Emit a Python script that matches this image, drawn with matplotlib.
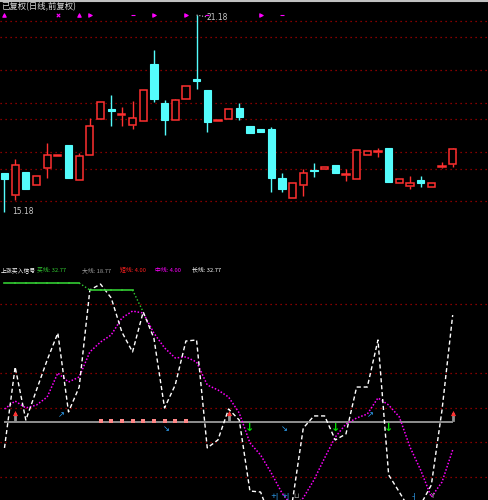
import numpy as np
import matplotlib
matplotlib.use('Agg')
import matplotlib.pyplot as plt
from matplotlib.patches import Rectangle

plt.rcParams['font.family'] = ['Noto Sans CJK SC', 'DejaVu Sans']

# ---------------- data ----------------
opens = [16.37, 15.70, 16.40, 16.00, 16.52, 16.89, 17.22, 16.15, 16.92, 18.01,
         18.32, 18.13, 17.83, 17.95, 19.69, 18.50, 17.98, 18.62, 19.23, 18.90,
         17.95, 18.01, 18.35, 17.80, 17.71, 17.71, 16.22, 15.61, 16.00, 16.47,
         16.49, 16.61, 16.32, 16.19, 16.92, 17.02, 17.13, 16.06, 15.97, 16.15,
         15.94, 16.55, 16.64]
closes = [16.19, 16.61, 15.88, 16.28, 16.92, 16.92, 16.22, 16.89, 17.80, 18.53,
          18.26, 18.17, 18.04, 18.90, 18.62, 17.98, 18.59, 19.02, 19.17, 17.92,
          17.98, 18.32, 18.07, 17.59, 17.62, 16.22, 15.88, 16.06, 16.37, 16.44,
          16.55, 16.37, 16.35, 17.07, 17.04, 17.05, 16.09, 16.19, 16.06, 16.06,
          16.06, 16.58, 17.10]
highs = [16.37, 16.79, 16.40, 16.28, 17.28, 16.92, 17.22, 16.98, 18.04, 18.53,
         18.74, 18.38, 18.56, 18.90, 20.11, 18.59, 18.62, 19.02, 21.18, 18.90,
         17.98, 18.32, 18.50, 17.80, 17.71, 17.77, 16.37, 16.06, 16.49, 16.67,
         16.55, 16.61, 16.49, 17.07, 17.04, 17.13, 17.13, 16.19, 16.28, 16.28,
         16.06, 16.70, 17.13]
lows = [15.18, 15.55, 15.88, 16.00, 16.22, 16.89, 16.22, 16.15, 16.92, 18.01,
        17.80, 17.80, 17.71, 17.95, 18.53, 17.53, 17.98, 18.62, 18.93, 17.62,
        17.95, 18.01, 17.98, 17.59, 17.62, 15.79, 15.79, 15.61, 15.67, 16.25,
        16.49, 16.37, 16.12, 16.19, 16.92, 16.86, 16.09, 16.06, 15.88, 15.94,
        15.94, 16.52, 16.55]
price_grid = [21.0, 20.5, 19.5, 18.5, 18.0, 17.0, 16.5, 15.5]
high_label = "21.18"
low_label = "15.18"
title_text = "已复权(日线,前复权)"

top_marks_idx = [0, 5, 7, 8, 12, 14, 17, 19, 24, 26]
top_marks_sym = ['^', 'x', '^', '>', '_', '>', '>', '_', '>', '_']

j_line = [16.8, 63.6, 32.9, 50.3, 67.6, 83.2, 37.6, 52.0, 108.1, 111.5,
          103.5, 83.8, 72.3, 95.4, 80.3, 39.9, 53.2, 78.6, 79.2, 16.8,
          21.4, 39.3, 32.9, -8.1, -8.7, -24.9, -22.0, -13.3, 28.3, 35.3,
          35.3, 21.4, 24.9, 52.0, 52.0, 79.2, 1.2, -8.7, -19.0, -16.0,
          -4.6, 38.7, 93.6]
d_line = [39.3, 43.9, 39.9, 41.6, 46.2, 60.1, 54.9, 57.8, 72.3, 78.0,
          82.1, 91.9, 95.9, 94.8, 83.2, 74.6, 68.8, 69.4, 66.5, 53.2,
          50.3, 46.2, 37.0, 19.7, 12.7, 2.3, -9.2, -17.3, -12.1, -1.7,
          11.0, 23.1, 30.6, 34.1, 36.4, 45.7, 41.6, 34.7, 17.3, 4.0,
          -11.6, -2.9, 15.6]
buy_line = [112.1, 112.1, 112.1, 112.1, 112.1, 112.1, 112.1, 112.1,
            108.1, 108.1, 108.1, 108.1, 108.1, 95.4]
base_level = 32.0
ind_grid = [100, 60, 40, 20, 0]

pink_idx = [9, 10, 11, 12, 13, 14, 15, 16, 17]
mushroom_idx = [1, 21, 42]
green_arrow_idx = [23, 31, 36]
cyan_up_idx = [5, 34]
cyan_down_idx = [15, 26]
bottom_marks_pos = [25.3, 26.3, 27.3, 38.4, 40.1]
bottom_marks_txt = ['+|', '+|', '⊔', '-|', 'Y']
bottom_marks_col = ['#30A8FF', '#30A8FF', '#B0B0B0', '#30A8FF', '#B0B0B0']

legend_parts = [("上涨买入信号", '#FFFFFF'), ("买线: 32.77", '#33CC33'),
                ("大线: 18.77", '#A0A0A0'), ("短线: 4.00", '#FF2020'),
                ("中线: 4.00", '#FF00FF'), ("长线: 32.77", '#FFFFFF')]
legend_x = [1, 37, 82, 120, 155, 192]

# ---------------- style ----------------
RED = '#FF3030'
CYAN = '#54FCFC'
GRID = '#B00000'
W, H = 488, 500
n = len(opens)
xlim = (-0.42, 45.31)

fig = plt.figure(figsize=(W / 100, H / 100), dpi=100, facecolor='black')
ax = fig.add_axes([0, 0.5, 1, 0.5], facecolor='black')
ax2 = fig.add_axes([0, 0, 1, 223 / 500], facecolor='black')
for a in (ax, ax2):
    a.set_xlim(*xlim)
    a.set_xticks([]); a.set_yticks([])
    for s in a.spines.values():
        s.set_visible(False)

ax.set_ylim(14.02, 21.64)
ax2.set_ylim(-13.3, 115.6)

# grid lines
for g in price_grid:
    ax.axhline(g, color=GRID, lw=0.9, ls=(0, (1, 3)))
for g in ind_grid:
    ax2.axhline(g, color=GRID, lw=0.9, ls=(0, (1, 3)))

# candles
w = 0.68
eps = 0.03
for i in range(n):
    o, c, h, l = opens[i], closes[i], highs[i], lows[i]
    up = c >= o
    top, bot = max(o, c), min(o, c)
    col = RED if up else CYAN
    if h > top:
        ax.vlines(i, top, h, color=col, lw=1)
    if l < bot:
        ax.vlines(i, l, bot, color=col, lw=1)
    hgt = max(top - bot, eps)
    if up:
        ax.add_patch(Rectangle((i - w / 2, bot), w, hgt, facecolor='black',
                               edgecolor=col, lw=1.1, zorder=3))
    else:
        ax.add_patch(Rectangle((i - w / 2, bot), w, hgt, facecolor=col,
                               edgecolor=col, lw=0.8, zorder=3))

# high / low labels
imax = int(np.argmax(highs)); imin = int(np.argmin(lows))
ax.plot([imax, imax + 0.9], [highs[imax], highs[imax] - 0.05], color='#C8C8C8',
        lw=0.8, ls=(0, (1, 1.5)))
ax.text(imax + 0.95, highs[imax] - 0.08, high_label, color='#C8C8C8',
        fontsize=5.5, va='center', ha='left', family='DejaVu Sans')
ax.text(imin + 0.75, lows[imin] + 0.02, low_label, color='#C8C8C8',
        fontsize=5.5, va='center', ha='left', family='DejaVu Sans')

# top magenta markers
for i, s in zip(top_marks_idx, top_marks_sym):
    ax.scatter([i], [0.94], transform=ax.get_xaxis_transform(), marker=s,
               s=6, color='#FF00FF', lw=0.8, zorder=5)

# title and top bar
fig.text(1 / W, 1 - 7 / H, title_text, color='#E0E0E0', fontsize=6,
         va='center', ha='left')
fig.add_artist(plt.Line2D([0, 1], [1 - 1 / H, 1 - 1 / H], color='#C0C0C0',
                          lw=1.5, transform=fig.transFigure))

# ---------------- indicator ----------------
x = np.arange(n)
ax2.plot(x, d_line, color='#FF00FF', lw=1.1, ls=(0, (1, 1.2)), zorder=3)
ax2.plot(x, j_line, color='#FFFFFF', lw=1.0, ls=(0, (3, 2)), zorder=4)
ax2.hlines(base_level, 0, n - 1, color='#A8A8A8', lw=1.2, zorder=2)

bx = np.arange(len(buy_line))
for k in range(len(buy_line) - 1):
    flat = buy_line[k] == buy_line[k + 1]
    ax2.plot(bx[k:k + 2], buy_line[k:k + 2], color='#33CC33',
             lw=1.2 if flat else 1.0,
             ls='-' if flat else (0, (1, 1.5)), zorder=5)

ax2.scatter(pink_idx, [base_level + 0.6] * len(pink_idx), marker='s', s=5,
            color='#FF8888', zorder=5, lw=0)
for i in mushroom_idx:
    ax2.plot([i, i], [base_level + 1, base_level + 4.5], color='#909090', lw=2, zorder=6)
    ax2.scatter([i], [base_level + 5.2], marker='^', s=14, color='#FF3030', zorder=7, lw=0)
for i in green_arrow_idx:
    ax2.text(i, base_level - 3.5, '↓', color='#00DD00', fontsize=8, weight='bold',
             ha='center', va='center', family='DejaVu Sans', zorder=7)
for i in cyan_up_idx:
    ax2.text(i + 0.3, base_level + 4, '↗', color='#30A8FF', fontsize=6,
             ha='center', va='center', family='DejaVu Sans', zorder=7)
for i in cyan_down_idx:
    ax2.text(i + 0.2, base_level - 3.8, '↘', color='#30A8FF', fontsize=6,
             ha='center', va='center', family='DejaVu Sans', zorder=7)
for p, t, c in zip(bottom_marks_pos, bottom_marks_txt, bottom_marks_col):
    ax2.text(p, -11.0, t, color=c, fontsize=5, ha='center', va='center',
             family='DejaVu Sans', zorder=7)

# legend line
for (txt, col), px in zip(legend_parts, legend_x):
    fig.text(px / W, 1 - 270 / H, txt, color=col, fontsize=4.2, va='center',
             ha='left')

fig.savefig('out.png', dpi=100, facecolor='black')
